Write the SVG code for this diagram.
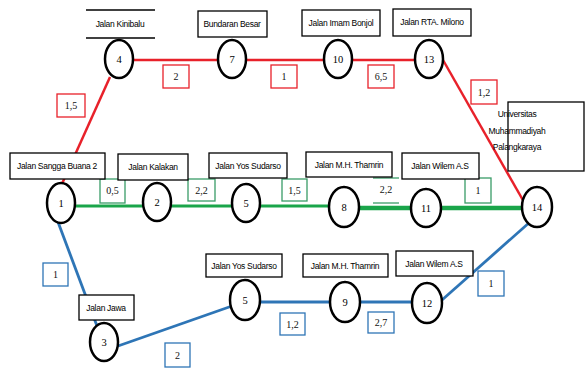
<svg xmlns="http://www.w3.org/2000/svg" width="585" height="369" viewBox="0 0 585 369">
<style>
.nd{fill:#fff;stroke:#000;stroke-width:2.5}
.nn{font-family:"Liberation Serif",serif;font-size:10.5px;text-anchor:middle;fill:#000}
.lb{fill:#fff;stroke:#000;stroke-width:1.3}
.lt{font-family:"Liberation Sans",Arial,sans-serif;font-size:8.5px;fill:#000;text-anchor:middle;letter-spacing:-0.3px}
.el{fill:#fff;stroke-width:1.3}
.et{font-family:"Liberation Serif",serif;font-size:10px;text-anchor:middle;fill:#111}
.r{stroke:#e8212a}
.g{stroke:#3a9c68}
.b{stroke:#2e75b6}
</style>
<rect width="585" height="369" fill="#fff"/>
<g id="connectors" fill="none">
  <g stroke="#e8212a" stroke-width="2.5">
    <line x1="61" y1="186" x2="110" y2="77"/>
    <line x1="133" y1="60" x2="415" y2="60"/>
    <line x1="443" y1="60" x2="524" y2="202"/>
  </g>
  <g stroke="#1aa54a">
    <line x1="76" y1="206" x2="330" y2="206" stroke-width="3"/>
    <line x1="359" y1="208" x2="523" y2="208" stroke-width="4.5"/>
  </g>
  <g stroke="#2e75b6" stroke-width="2.8">
    <line x1="58" y1="222" x2="97" y2="326"/>
    <line x1="118" y1="346" x2="232" y2="306"/>
    <line x1="260" y1="302" x2="413" y2="302"/>
    <line x1="442" y1="300" x2="530" y2="222"/>
  </g>
  <g id="edge-labels">
    <rect class="el r" x="57" y="94" width="28" height="23"/><text class="et" x="71" y="109">1,5</text>
    <rect class="el r" x="163" y="65" width="26" height="23"/><text class="et" x="176" y="80">2</text>
    <rect class="el r" x="271" y="65" width="26" height="23"/><text class="et" x="284" y="80">1</text>
    <rect class="el r" x="368" y="65" width="26" height="23"/><text class="et" x="381" y="80">6,5</text>
    <rect class="el r" x="471" y="80" width="26" height="24"/><text class="et" x="484" y="96">1,2</text>

    <rect class="el g" x="100" y="179" width="25" height="24"/><text class="et" x="112.5" y="194">0,5</text>
    <rect class="el g" x="188" y="179" width="27" height="22"/><text class="et" x="201.5" y="194">2,2</text>
    <rect class="el g" x="282" y="179" width="25" height="22"/><text class="et" x="294.5" y="194">1,5</text>
    <line class="g" x1="373" y1="178" x2="399" y2="178" stroke-width="1.3"/>
    <line class="g" x1="373" y1="203" x2="399" y2="203" stroke-width="1.3"/>
    <text class="et" x="386" y="193">2,2</text>
    <rect class="el g" x="465" y="178" width="26" height="25"/><text class="et" x="478" y="194">1</text>

    <rect class="el b" x="43" y="263" width="25" height="23"/><text class="et" x="55.5" y="278">1</text>
    <rect class="el b" x="165" y="343" width="25" height="24"/><text class="et" x="177.5" y="359">2</text>
    <rect class="el b" x="280" y="313" width="25" height="22"/><text class="et" x="292.5" y="328">1,2</text>
    <rect class="el b" x="368" y="312" width="26" height="21"/><text class="et" x="381" y="326">2,7</text>
    <rect class="el b" x="478" y="271" width="26" height="25"/><text class="et" x="491" y="287">1</text>
  </g>
</g>
<g id="node-1">
  <rect class="lb" x="10" y="153" width="95" height="26"/><text class="lt" x="57" y="169">Jalan Sangga Buana 2</text>
  <ellipse class="nd" cx="61" cy="203" rx="14" ry="20"/><text class="nn" x="61" y="207">1</text>
</g>
<g id="node-4">
  <line x1="86" y1="10" x2="155" y2="10" stroke="#000" stroke-width="1.3"/>
  <line x1="86" y1="38" x2="155" y2="38" stroke="#000" stroke-width="1.3"/>
  <text class="lt" x="120" y="27">Jalan Kinibalu</text>
  <ellipse class="nd" cx="119" cy="59" rx="14" ry="19"/><text class="nn" x="119" y="63">4</text>
</g>
<g id="node-7">
  <rect class="lb" x="198" y="11" width="69" height="26"/><text class="lt" x="232" y="27">Bundaran Besar</text>
  <ellipse class="nd" cx="232" cy="59" rx="14" ry="19"/><text class="nn" x="232" y="63">7</text>
</g>
<g id="node-10">
  <rect class="lb" x="302" y="10" width="78" height="26"/><text class="lt" x="341" y="26">Jalan Imam Bonjol</text>
  <ellipse class="nd" cx="338" cy="59" rx="14" ry="19"/><text class="nn" x="338" y="63">10</text>
</g>
<g id="node-13">
  <rect class="lb" x="393" y="9" width="78" height="27"/><text class="lt" x="432" y="25">Jalan RTA. Milono</text>
  <ellipse class="nd" cx="429" cy="59" rx="14" ry="19"/><text class="nn" x="429" y="63">13</text>
</g>
<g id="node-2">
  <rect class="lb" x="118" y="154" width="70" height="26"/><text class="lt" x="153" y="170">Jalan Kalakan</text>
  <ellipse class="nd" cx="157" cy="202" rx="14" ry="19"/><text class="nn" x="157" y="206">2</text>
</g>
<g id="node-5a">
  <rect class="lb" x="209" y="153" width="78" height="25"/><text class="lt" x="248" y="169">Jalan Yos Sudarso</text>
  <ellipse class="nd" cx="246" cy="203" rx="14" ry="19"/><text class="nn" x="246" y="207">5</text>
</g>
<g id="node-8">
  <rect class="lb" x="306" y="152" width="86" height="25"/><text class="lt" x="349" y="168">Jalan M.H. Thamrin</text>
  <ellipse class="nd" cx="344" cy="207" rx="15" ry="20"/><text class="nn" x="344" y="211">8</text>
</g>
<g id="node-11">
  <rect class="lb" x="402" y="153" width="77" height="26"/><text class="lt" x="440" y="169">Jalan Wilem A.S</text>
  <ellipse class="nd" cx="426" cy="208" rx="15" ry="19"/><text class="nn" x="426" y="212">11</text>
</g>
<g id="node-14">
  <rect class="lb" x="508" y="102" width="76" height="69"/>
  <text class="lt" x="517" y="117" text-anchor="start">Universitas</text>
  <text class="lt" x="517" y="134" text-anchor="start">Muhammadiyah</text>
  <text class="lt" x="517" y="150" text-anchor="start">Palangkaraya</text>
  <ellipse class="nd" cx="537" cy="207" rx="15" ry="20"/><text class="nn" x="537" y="211">14</text>
</g>
<g id="node-3">
  <rect class="lb" x="79" y="295" width="55" height="25"/><text class="lt" x="106" y="311">Jalan Jawa</text>
  <ellipse class="nd" cx="104" cy="342" rx="14" ry="19"/><text class="nn" x="104" y="346">3</text>
</g>
<g id="node-5b">
  <rect class="lb" x="206" y="254" width="76" height="23"/><text class="lt" x="244" y="269">Jalan Yos Sudarso</text>
  <ellipse class="nd" cx="245" cy="300" rx="15" ry="20"/><text class="nn" x="245" y="304">5</text>
</g>
<g id="node-9">
  <rect class="lb" x="303" y="254" width="85" height="23"/><text class="lt" x="345" y="269">Jalan M.H. Thamrin</text>
  <ellipse class="nd" cx="345" cy="302" rx="15" ry="20"/><text class="nn" x="345" y="306">9</text>
</g>
<g id="node-12">
  <rect class="lb" x="396" y="251" width="77" height="25"/><text class="lt" x="434" y="267">Jalan Wilem A.S</text>
  <ellipse class="nd" cx="427" cy="303" rx="15" ry="20"/><text class="nn" x="427" y="307">12</text>
</g>
</svg>
